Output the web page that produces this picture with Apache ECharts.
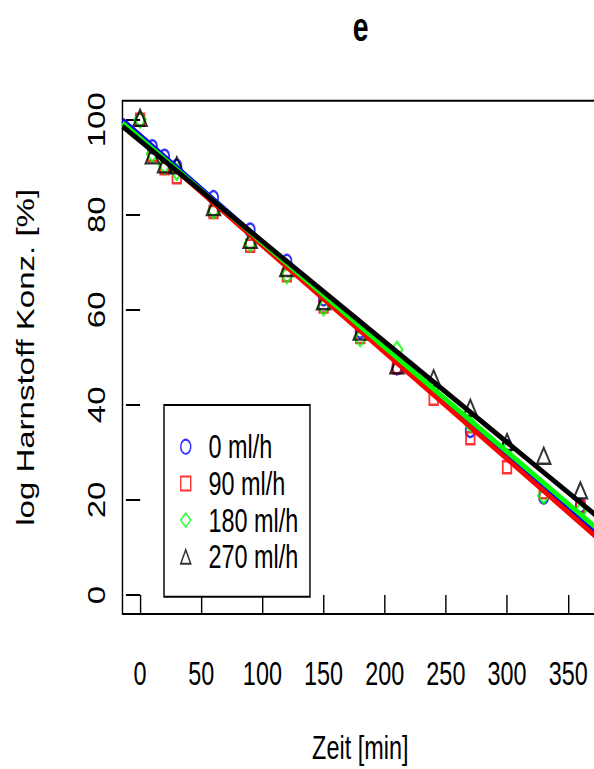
<!DOCTYPE html>
<html>
<head>
<meta charset="utf-8">
<script src="https://cdn.jsdelivr.net/npm/echarts@6/dist/echarts.min.js"></script>
<style>
  html, body { margin: 0; padding: 0; width: 594px; height: 769px; overflow: hidden; background: #fff; }
  #chart { width: 850px; height: 769px; transform: scaleX(0.71); transform-origin: 0 0; }
</style>
</head>
<body>
<div id="chart"></div>
<script>
// ---- data ----
const times   = [0, 10, 20, 30, 60, 90, 120, 150, 180, 210, 240, 270, 300, 330, 360];
const rate0   = [100, 94.3, 92.3, 90.2, 83.6, 76.8, 70.2, 62.3, 55.5, 47.8, 43.6, 34.6, 31.2, 20.6, 18.8];
const rate90  = [100, 92.6, 89.8, 87.9, 80.6, 73.5, 67.3, 60.7, 54.3, 47.9, 41.3, 33.0, 26.9, 21.6, 18.6];
const rate180 = [100, 92.8, 90.4, 89.0, 80.9, 74.0, 67.3, 60.5, 54.0, 51.6, 43.6, 36.0, 30.6, 20.9, 17.6];
const rate270 = [100.4, 92.5, 90.6, 90.4, 81.6, 74.7, 68.8, 61.8, 55.4, 48.3, 45.6, 39.4, 32.2, 29.3, 22.0];

// fitted regression lines: values at the left and right edge of the plot
const fitX   = [-14.4, 374.4];
const fit0   = [99.9, 12.7];
const fit90  = [99.2, 11.9];
const fit180 = [99.3, 13.8];
const fit270 = [98.6, 16.4];

const seriesNames = ['0 ml/h', '90 ml/h', '180 ml/h', '270 ml/h'];
const xTicks = [0, 50, 100, 150, 200, 250, 300, 350];
const yTicks = [0, 20, 40, 60, 80, 100];

// ---- chart ----
const FONT = 'Liberation Sans, Arial, Helvetica, sans-serif';
const colors = ['#0000ff', '#ff0000', '#00ff00', '#000000'];
const symbols = ['circle', 'rect', 'diamond', 'triangle'];
const sizes = [[13, 13], [12, 12], [16, 16], [19, 16]];
const rates = [rate0, rate90, rate180, rate270];
const fits = [fit0, fit90, fit180, fit270];

const pairs = (xs, ys) => xs.map((x, i) => [x, ys[i]]);

const scatterSeries = rates.map((r, i) => ({
  name: seriesNames[i],
  type: 'scatter',
  data: pairs(times, r),
  symbol: symbols[i],
  symbolSize: sizes[i],
  itemStyle: { color: 'rgba(0,0,0,0)', borderColor: colors[i], borderWidth: 2.5 },
  emphasis: { disabled: true },
  silent: true,
  z: 2
}));

const lineSeries = fits.map((f, i) => ({
  name: 'fit ' + seriesNames[i],
  type: 'line',
  data: pairs(fitX, f),
  showSymbol: false,
  symbol: 'none',
  lineStyle: { color: colors[i], width: 5.5 },
  itemStyle: { color: colors[i] },
  emphasis: { disabled: true },
  silent: true,
  z: 3
}));

const chart = echarts.init(document.getElementById('chart'), null, { renderer: 'svg' });
chart.setOption({
  animation: false,
  backgroundColor: '#fff',
  title: {
    text: 'e',
    left: 503,
    top: 2,
    textAlign: 'center',
    textStyle: { fontFamily: FONT, fontSize: 40, fontWeight: 'bold', color: '#000' }
  },
  grid: {
    left: 172.5, top: 100.7, width: 669.8, height: 514,
    show: true, borderColor: '#000', borderWidth: 2, backgroundColor: 'transparent'
  },
  legend: {
    data: seriesNames,
    orient: 'vertical',
    left: 231,
    top: 405,
    padding: [25.2, 16.4, 23.5, 22.6],
    itemWidth: 14,
    itemHeight: 14,
    itemGap: 3.7,
    borderColor: '#000',
    borderWidth: 2,
    backgroundColor: '#fff',
    selectedMode: false,
    textStyle: { fontFamily: FONT, fontSize: 33, lineHeight: 33, color: '#000', padding: [0, 0, 0, 20] }
  },
  xAxis: {
    type: 'value',
    min: -14.4, max: 374.4,
    name: 'Zeit [min]',
    nameLocation: 'middle',
    nameGap: 117,
    nameTextStyle: { fontFamily: FONT, fontSize: 33, color: '#000' },
    axisLine: { show: false },
    splitLine: { show: false },
    axisTick: { show: true, customValues: xTicks, length: 20, lineStyle: { color: '#000', width: 2 } },
    axisLabel: { customValues: xTicks, fontFamily: FONT, fontSize: 33, color: '#000', margin: 43 }
  },
  yAxis: {
    type: 'value',
    min: -4, max: 104,
    name: 'log Harnstoff Konz. [%]',
    nameLocation: 'middle',
    nameGap: 119,
    nameRotate: 90,
    nameTextStyle: { fontFamily: FONT, fontSize: 33, color: '#000' },
    axisLine: { show: false },
    splitLine: { show: false },
    axisTick: { show: true, customValues: yTicks, length: 20, lineStyle: { color: '#000', width: 2 } },
    axisLabel: { customValues: yTicks, rotate: 90, fontFamily: FONT, fontSize: 33, color: '#000', margin: 20 }
  },
  series: scatterSeries.concat(lineSeries)
});
</script>
</body>
</html>
